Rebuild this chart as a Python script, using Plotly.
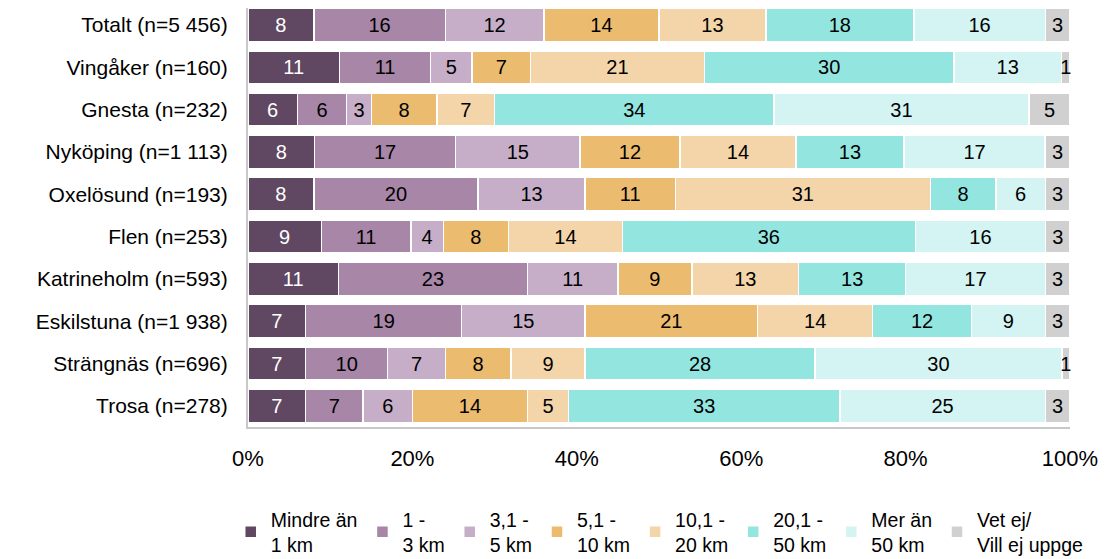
import plotly.graph_objects as go

categories = ["Totalt (n=5 456)", "Vingåker (n=160)", "Gnesta (n=232)", "Nyköping (n=1 113)",
              "Oxelösund (n=193)", "Flen (n=253)", "Katrineholm (n=593)", "Eskilstuna (n=1 938)",
              "Strängnäs (n=696)", "Trosa (n=278)"]

series_names = ["Mindre än<br>1 km", "1 -<br>3 km", "3,1 -<br>5 km", "5,1 -<br>10 km",
                "10,1 -<br>20 km", "20,1 -<br>50 km", "Mer än<br>50 km", "Vet ej/<br>Vill ej uppge"]

mindre_an_1 = [8, 11, 6, 8, 8, 9, 11, 7, 7, 7]
km_1_3 = [16, 11, 6, 17, 20, 11, 23, 19, 10, 7]
km_3_5 = [12, 5, 3, 15, 13, 4, 11, 15, 7, 6]
km_5_10 = [14, 7, 8, 12, 11, 8, 9, 21, 8, 14]
km_10_20 = [13, 21, 7, 14, 31, 14, 13, 14, 9, 5]
km_20_50 = [18, 30, 34, 13, 8, 36, 13, 12, 28, 33]
mer_an_50 = [16, 13, 31, 17, 6, 16, 17, 9, 30, 25]
vet_ej = [3, 1, 5, 3, 3, 3, 3, 3, 1, 3]

series_values = [mindre_an_1, km_1_3, km_3_5, km_5_10, km_10_20, km_20_50, mer_an_50, vet_ej]
colors = ["#604762", "#a886a8", "#c6aec8", "#ebbb70", "#f3d5a9", "#93e6e0", "#d3f4f2", "#d0d0d0"]
text_colors = ["white", "black", "black", "black", "black", "black", "black", "black"]

tick_vals = [0, 20, 40, 60, 80, 100]
tick_text = ["0%", "20%", "40%", "60%", "80%", "100%"]

FONT = "Liberation Sans, Arial, sans-serif"

fig = go.Figure()
for name, vals, col, tcol in zip(series_names, series_values, colors, text_colors):
    fig.add_trace(go.Bar(
        y=categories, x=vals, name=name, orientation="h",
        marker=dict(color=col, line=dict(color="white", width=1.5)),
        text=[str(v) for v in vals], texttemplate="%{text}",
        textposition="inside", insidetextanchor="middle", textangle=0,
        constraintext="none", cliponaxis=False,
        textfont=dict(color=tcol, size=20, family=FONT),
        hoverinfo="skip",
    ))

fig.update_layout(
    width=1112, height=551,
    barmode="stack", barnorm="percent", bargap=0.22,
    plot_bgcolor="white", paper_bgcolor="white",
    margin=dict(l=240, r=50, t=0, b=132, autoexpand=False),
    font=dict(family=FONT, size=20, color="black"),
    showlegend=True,
    legend=dict(orientation="h", x=-0.021, y=-0.174, xanchor="left", yanchor="top",
                font=dict(size=19.5, family=FONT), traceorder="normal",
                itemwidth=30, tracegroupgap=0, itemclick=False),
    xaxis=dict(range=[0, 100], tickvals=tick_vals, ticktext=tick_text, showgrid=False,
               zeroline=False, showline=True, linecolor="#c8c8c8", linewidth=2,
               ticks="", ticklabelstandoff=11, tickfont=dict(size=22)),
    yaxis=dict(range=[9.5, -0.4], autorange=False, showgrid=False, showline=True,
               linecolor="#c8c8c8", linewidth=2, ticks="", ticklabelstandoff=14,
               tickfont=dict(size=21)),
)

fig.write_html("out.html")
